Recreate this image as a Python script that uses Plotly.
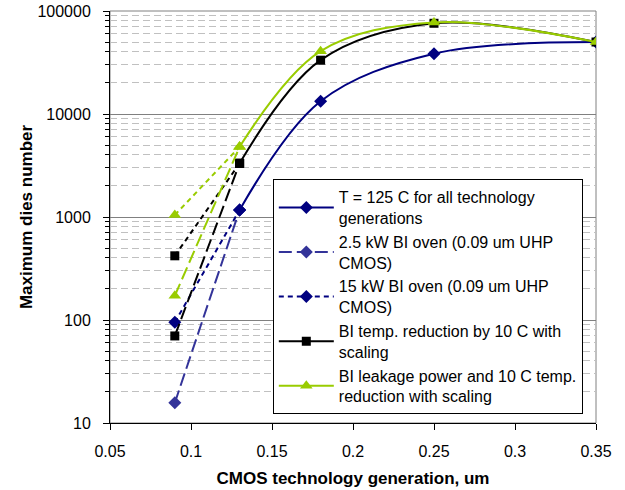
import plotly.graph_objects as go

# ---- data ----
x_main = [0.13, 0.18, 0.25, 0.35]
x_low = [0.09, 0.13]

t125_y = [1170, 13300, 38500, 50000]
oven25_y = [15.7, 1170]
oven15_y = [95, 1170]
bi10_y = [3320, 33300, 76000, 50000]
bi10_oven25_y = [70, 3320]
bi10_oven15_y = [420, 3320]
leak_y = [4800, 40700, 77500, 50000]
leak_oven25_y = [172, 4800]
leak_oven15_y = [1045, 4800]

y_tickvals = [10, 100, 1000, 10000, 100000]
y_ticktext = ["10", "100", "1000", "10000", "100000"]

names = [
    "T = 125 C for all technology<br>generations",
    "2.5 kW BI oven (0.09 um UHP<br>CMOS)",
    "15 kW BI oven (0.09 um UHP<br>CMOS)",
    "BI temp. reduction by 10 C with<br>scaling",
    "BI leakage power and 10 C temp.<br>reduction with scaling",
]

NAVY = "#000080"
INDIGO = "#333399"
BLACK = "#000000"
GREEN = "#99CC00"
LONG = "13px,5px"
SHORT = "5px,4px"

fig = go.Figure()

def add(x, y, color, dash, symbol, size, name=None, show=False, spline=False):
    fig.add_trace(go.Scatter(
        x=x, y=y, mode="lines+markers", name=name, showlegend=show,
        line=dict(color=color, width=2, dash=dash, shape="spline" if spline else "linear", smoothing=1.0),
        marker=dict(symbol=symbol, size=size, color=color, line=dict(width=0)),
    ))

add(x_main, t125_y, NAVY, "solid", "diamond", 10, names[0], True, True)
add(x_low, oven25_y, INDIGO, LONG, "diamond", 10, names[1], True)
add(x_low, oven15_y, NAVY, SHORT, "diamond", 10, names[2], True)
add(x_main, bi10_y, BLACK, "solid", "square", 9, names[3], True, True)
add(x_low, bi10_oven25_y, BLACK, LONG, "square", 9)
add(x_low, bi10_oven15_y, BLACK, SHORT, "square", 9)
add(x_main, leak_y, GREEN, "solid", "triangle-up", 11, names[4], True, True)
add(x_low, leak_oven25_y, GREEN, LONG, "triangle-up", 11)
add(x_low, leak_oven15_y, GREEN, SHORT, "triangle-up", 11)

font = "Liberation Sans, Arial, sans-serif"

fig.update_layout(
    width=625, height=490,
    margin=dict(l=110, r=29, t=11, b=67),
    paper_bgcolor="white", plot_bgcolor="white",
    font=dict(family=font, size=16, color="black"),
    xaxis=dict(
        range=[0.05, 0.35], dtick=0.05, tick0=0.05,
        showgrid=False, zeroline=False, automargin=False,
        showline=True, linecolor="black", linewidth=1,
        ticks="outside", ticklen=6, tickcolor="black", ticklabelstandoff=8,
        title=dict(text="<b>CMOS technology generation, um</b>", font=dict(size=17), standoff=12),
        tickfont=dict(size=16),
    ),
    yaxis=dict(
        type="log", range=[1, 5],
        tickvals=y_tickvals, ticktext=y_ticktext,
        showgrid=True, gridcolor="#808080", gridwidth=1,
        zeroline=False, automargin=False,
        showline=True, linecolor="black", linewidth=1,
        ticks="outside", ticklen=6, tickcolor="black", ticklabelstandoff=9,
        ticklabeloverflow="allow",
        tickfont=dict(size=16),
        minor=dict(dtick="D1", showgrid=True, gridcolor="#c0c0c0", griddash="7px,4px",
                   ticks="outside", ticklen=4, tickcolor="black"),
        title=dict(text="<b>Maximum dies number</b>", font=dict(size=17), standoff=0),
    ),
    legend=dict(
        x=0.335, y=0.592, xanchor="left", yanchor="top",
        bgcolor="white", bordercolor="black", borderwidth=1,
        font=dict(size=16), itemwidth=55, tracegroupgap=0,
    ),
    shapes=[dict(type="rect", xref="paper", yref="paper", x0=0, y0=0, x1=1, y1=1,
                 line=dict(color="#808080", width=1), layer="below")],
)

fig.write_html("out.html", config={"displayModeBar": False},
               post_script="document.body.style.margin='0';")
